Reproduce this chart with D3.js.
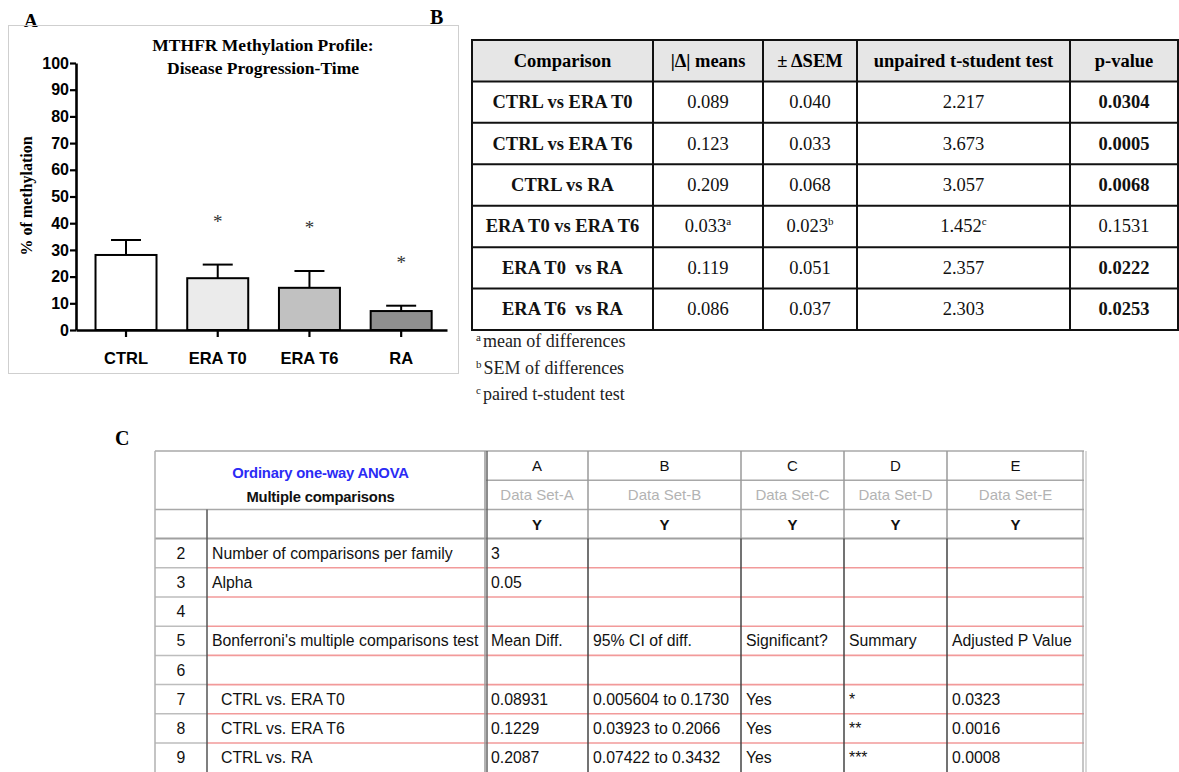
<!DOCTYPE html>
<html>
<head>
<meta charset="utf-8">
<script src="https://cdn.jsdelivr.net/npm/d3@7"></script>
<style>
  html, body { margin: 0; padding: 0; background: #fff; }
  svg { display: block; }
  text { white-space: pre; }
</style>
</head>
<body>
<svg id="fig" width="1179" height="772"></svg>
<script>
// ---------- Panel A: MTHFR methylation by group ----------
const groups = ["CTRL", "ERA T0", "ERA T6", "RA"];
const meanMethylation = [28.1, 19.4, 15.8, 7.1];
const semMethylation = [5.6, 5.1, 6.3, 2.0];
const significantVsCtrl = [false, true, true, true];
const yTickValues = [0, 10, 20, 30, 40, 50, 60, 70, 80, 90, 100];
const barFills = ["#ffffff", "#ebebeb", "#c1c1c1", "#8f8f8f"];

// ---------- Panel B: pairwise t-tests ----------
const tHeaders = ["Comparison", "|\u0394| means", "\u00b1 \u0394SEM", "unpaired t-student test", "p-value"];
const tComparisons = ["CTRL vs ERA T0", "CTRL vs ERA T6", "CTRL vs RA", "ERA T0 vs ERA T6", "ERA T0  vs RA", "ERA T6  vs RA"];
const tMeanDiff = ["0.089", "0.123", "0.209", "0.033", "0.119", "0.086"];
const tDeltaSem = ["0.040", "0.033", "0.068", "0.023", "0.051", "0.037"];
const tStatistic = ["2.217", "3.673", "3.057", "1.452", "2.357", "2.303"];
const tPValue = ["0.0304", "0.0005", "0.0068", "0.1531", "0.0222", "0.0253"];
const pairedTest = [false, false, false, true, false, false];
const footnoteMarks = ["a", "b", "c"];
const footnoteTexts = ["mean of differences", "SEM of differences", "paired t-student test"];

// ---------- Panel C: one-way ANOVA, Bonferroni ----------
const anovaLetters = ["A", "B", "C", "D", "E"];
const anovaDataSets = ["Data Set-A", "Data Set-B", "Data Set-C", "Data Set-D", "Data Set-E"];
const anovaRowNumbers = ["2", "3", "4", "5", "6", "7", "8", "9"];
const anovaRowLabels = ["Number of comparisons per family", "Alpha", "", "Bonferroni's multiple comparisons test", "",
                        "CTRL vs. ERA T0", "CTRL vs. ERA T6", "CTRL vs. RA"];
const anovaCells = [
  ["3", "", "", "", ""],
  ["0.05", "", "", "", ""],
  ["", "", "", "", ""],
  ["Mean Diff.", "95% CI of diff.", "Significant?", "Summary", "Adjusted P Value"],
  ["", "", "", "", ""],
  ["0.08931", "0.005604 to 0.1730", "Yes", "*", "0.0323"],
  ["0.1229", "0.03923 to 0.2066", "Yes", "**", "0.0016"],
  ["0.2087", "0.07422 to 0.3432", "Yes", "***", "0.0008"]
];

const SERIF = "'Liberation Serif', 'Times New Roman', Times, serif";
const SANS = "'Liberation Sans', Arial, Helvetica, sans-serif";

const svg = d3.select("#fig");
svg.append("rect").attr("width", 1179).attr("height", 772).attr("fill", "#fff");

// ================= Panel A =================
svg.append("text").attr("x", 24).attr("y", 27).text("A")
  .attr("font-family", SERIF).attr("font-weight", "bold").attr("font-size", 19);
svg.append("rect").attr("x", 8.5).attr("y", 25.5).attr("width", 450).attr("height", 348)
  .attr("fill", "none").attr("stroke", "#cfcfcf").attr("stroke-width", 1);

const y = d3.scaleLinear().domain([0, 100]).range([330, 63]);
const x = d3.scaleBand().domain(groups).range([76, 447])
  .paddingInner(0.335).paddingOuter(0.19).align(0.56);

const gA = svg.append("g");

// title
gA.append("text").attr("x", 263).attr("y", 51).attr("text-anchor", "middle")
  .attr("font-family", SERIF).attr("font-weight", "bold").attr("font-size", 17.5)
  .text("MTHFR Methylation Profile:");
gA.append("text").attr("x", 263).attr("y", 74).attr("text-anchor", "middle")
  .attr("font-family", SERIF).attr("font-weight", "bold").attr("font-size", 17.5)
  .text("Disease Progression-Time");

// y-axis title
gA.append("text").attr("transform", "translate(32,196) rotate(-90)")
  .attr("text-anchor", "middle")
  .attr("font-family", SERIF).attr("font-weight", "bold").attr("font-size", 16)
  .text("% of methylation");

const data = groups.map((g, i) => ({ g, m: meanMethylation[i], s: semMethylation[i], sig: significantVsCtrl[i], fill: barFills[i] }));

// error bars (drawn first so the bar outline sits on top)
const capHalf = 15;
const eb = gA.append("g").attr("stroke", "#000").attr("stroke-width", 2).attr("fill", "none");
eb.selectAll("line.v").data(data).join("line").attr("class", "v")
  .attr("x1", d => x(d.g) + x.bandwidth() / 2).attr("x2", d => x(d.g) + x.bandwidth() / 2)
  .attr("y1", d => y(d.m)).attr("y2", d => y(d.m + d.s));
eb.selectAll("line.c").data(data).join("line").attr("class", "c")
  .attr("x1", d => x(d.g) + x.bandwidth() / 2 - capHalf).attr("x2", d => x(d.g) + x.bandwidth() / 2 + capHalf)
  .attr("y1", d => y(d.m + d.s)).attr("y2", d => y(d.m + d.s));

// bars
gA.append("g").selectAll("rect").data(data).join("rect")
  .attr("x", d => x(d.g)).attr("width", x.bandwidth())
  .attr("y", d => y(d.m)).attr("height", d => y(0) - y(d.m))
  .attr("fill", d => d.fill).attr("stroke", "#000").attr("stroke-width", 2);

// significance stars above error bars
const starGap = 37;
gA.append("g").selectAll("text").data(data.filter(d => d.sig)).join("text")
  .attr("x", d => x(d.g) + x.bandwidth() / 2)
  .attr("y", d => y(d.m + d.s) - starGap)
  .attr("text-anchor", "middle")
  .attr("font-family", SERIF).attr("font-size", 19).attr("fill", "#333")
  .text("*");

// axes
const yAxis = gA.append("g").attr("transform", "translate(76,0)")
  .call(d3.axisLeft(y).tickValues(yTickValues).tickSize(6).tickPadding(1).tickSizeOuter(0));
const xAxis = gA.append("g").attr("transform", "translate(0,330)")
  .call(d3.axisBottom(x).tickSize(7).tickPadding(15).tickSizeOuter(0));
[yAxis, xAxis].forEach(a => {
  a.select(".domain").attr("stroke", "#000").attr("stroke-width", 2.6);
  a.selectAll(".tick line").attr("stroke", "#000").attr("stroke-width", 2.2);
  a.selectAll(".tick text").attr("fill", "#000")
    .attr("font-family", SANS).attr("font-weight", "bold");
});
yAxis.selectAll(".tick text").attr("font-size", 16);
xAxis.selectAll(".tick text").attr("font-size", 16.5);

// ================= Panel B =================
svg.append("text").attr("x", 430).attr("y", 24).text("B")
  .attr("font-family", SERIF).attr("font-weight", "bold").attr("font-size", 20);

const colEdgesB = [472, 653, 763, 857, 1070, 1178];
const rowsB = d3.scaleBand().domain(d3.range(tComparisons.length + 1)).range([40, 330]);
const gB = svg.append("g");

gB.append("rect").attr("x", colEdgesB[0]).attr("y", rowsB(0))
  .attr("width", colEdgesB[colEdgesB.length - 1] - colEdgesB[0]).attr("height", rowsB.step())
  .attr("fill", "#e6e6e6");

const colCenterB = i => (colEdgesB[i] + colEdgesB[i + 1]) / 2;

// header
gB.selectAll("text.h").data(tHeaders).join("text").attr("class", "h")
  .attr("x", (d, i) => colCenterB(i)).attr("y", rowsB(0) + rowsB.step() / 2 + 6)
  .attr("text-anchor", "middle")
  .attr("font-family", SERIF).attr("font-weight", "bold").attr("font-size", 18.5)
  .text(d => d);

// body
const bodyB = tComparisons.map((c, i) => ({
  cells: [c, tMeanDiff[i], tDeltaSem[i], tStatistic[i], tPValue[i]],
  paired: pairedTest[i], row: i + 1, p: +tPValue[i]
}));
bodyB.forEach(r => {
  const marks = r.paired ? ["", "a", "b", "c", ""] : ["", "", "", "", ""];
  r.cells.forEach((v, ci) => {
    const t = gB.append("text")
      .attr("x", colCenterB(ci)).attr("y", rowsB(r.row) + rowsB.step() / 2 + 6)
      .attr("text-anchor", "middle")
      .attr("font-family", SERIF).attr("font-size", 18.5)
      .attr("font-weight", ci === 0 || (ci === 4 && r.p < 0.05) ? "bold" : "normal")
      .attr("fill", "#111");
    t.append("tspan").text(v);
    if (marks[ci]) t.append("tspan").attr("font-size", 11).attr("dy", -7).text(marks[ci]);
  });
});

// grid
const gridB = gB.append("g").attr("stroke", "#111").attr("stroke-width", 2);
gridB.selectAll("line.v").data(colEdgesB).join("line").attr("class", "v")
  .attr("x1", d => d).attr("x2", d => d).attr("y1", 40).attr("y2", 330);
gridB.selectAll("line.h").data(d3.range(tComparisons.length + 2)).join("line").attr("class", "h")
  .attr("x1", colEdgesB[0] - 1).attr("x2", colEdgesB[colEdgesB.length - 1] + 1)
  .attr("y1", i => 40 + i * rowsB.step()).attr("y2", i => 40 + i * rowsB.step());

// footnotes
footnoteTexts.forEach((f, i) => {
  const t = gB.append("text").attr("x", 476).attr("y", 347 + i * 26.5)
    .attr("font-family", SERIF).attr("font-size", 18).attr("fill", "#222");
  t.append("tspan").attr("font-size", 11).attr("dy", -6).text(footnoteMarks[i]);
  t.append("tspan").attr("dy", 6).attr("dx", 2).text(f);
});

// ================= Panel C =================
svg.append("text").attr("x", 115).attr("y", 445).text("C")
  .attr("font-family", SERIF).attr("font-weight", "bold").attr("font-size", 20);

const colEdgesC = [155, 207, 486, 588, 741, 844, 947, 1084];
const rowsC = d3.scaleBand().domain(d3.range(3 + anovaRowNumbers.length)).range([451, 772.2]);
const gC = svg.append("g");
const stepC = rowsC.step();
const midC = r => rowsC(r) + stepC / 2 + 5.5;
const colCenterC = i => (colEdgesC[i] + colEdgesC[i + 1]) / 2;
const bodySize = 15.8;

// header block
gC.append("text").attr("x", (colEdgesC[0] + colEdgesC[2]) / 2).attr("y", 478)
  .attr("text-anchor", "middle").attr("font-family", SANS).attr("font-weight", "bold")
  .attr("font-size", 14.8).attr("fill", "#2b2bf5").attr("letter-spacing", -0.2)
  .text("Ordinary one-way ANOVA");
gC.append("text").attr("x", (colEdgesC[0] + colEdgesC[2]) / 2).attr("y", 502)
  .attr("text-anchor", "middle").attr("font-family", SANS).attr("font-weight", "bold")
  .attr("font-size", 14.8).attr("fill", "#111").attr("letter-spacing", -0.2)
  .text("Multiple comparisons");

gC.selectAll("text.let").data(anovaLetters).join("text").attr("class", "let")
  .attr("x", (d, i) => colCenterC(i + 2)).attr("y", midC(0))
  .attr("text-anchor", "middle").attr("font-family", SANS).attr("font-size", 15).attr("fill", "#111")
  .text(d => d);
gC.selectAll("text.ds").data(anovaDataSets).join("text").attr("class", "ds")
  .attr("x", (d, i) => colCenterC(i + 2)).attr("y", midC(1))
  .attr("text-anchor", "middle").attr("font-family", SANS).attr("font-size", 15).attr("fill", "#b3b3b3")
  .text(d => d);
gC.selectAll("text.yy").data(anovaLetters).join("text").attr("class", "yy")
  .attr("x", (d, i) => colCenterC(i + 2)).attr("y", midC(2))
  .attr("text-anchor", "middle").attr("font-family", SANS).attr("font-weight", "bold")
  .attr("font-size", 15).attr("fill", "#111")
  .text("Y");

// body rows
anovaRowNumbers.forEach((n, i) => {
  const r = i + 3;
  gC.append("text").attr("x", colCenterC(0)).attr("y", midC(r)).attr("text-anchor", "middle")
    .attr("font-family", SANS).attr("font-size", bodySize).attr("fill", "#111").text(n);
  const lbl = anovaRowLabels[i];
  const indent = lbl.includes("vs.") ? 14 : 5;
  gC.append("text").attr("x", colEdgesC[1] + indent).attr("y", midC(r))
    .attr("font-family", SANS).attr("font-size", bodySize).attr("fill", "#111").text(lbl);
  anovaCells[i].forEach((v, ci) => {
    gC.append("text").attr("x", colEdgesC[ci + 2] + 5).attr("y", midC(r))
      .attr("font-family", SANS).attr("font-size", bodySize).attr("fill", "#111").text(v);
  });
});

// grid lines
const line = (x1, y1, x2, y2, c, w) => gC.append("line")
  .attr("x1", x1).attr("y1", y1).attr("x2", x2).attr("y2", y2)
  .attr("stroke", c).attr("stroke-width", w);
const right = colEdgesC[colEdgesC.length - 1];
line(colEdgesC[0], rowsC(0), right, rowsC(0), "#a8a8a8", 1.5);
line(colEdgesC[2], rowsC(1), right, rowsC(1), "#a8a8a8", 1.5);
line(colEdgesC[0], rowsC(2), right, rowsC(2), "#a8a8a8", 1.5);
line(colEdgesC[0], rowsC(3), right, rowsC(3), "#a0a0a0", 2);
for (let r = 4; r < 3 + anovaRowNumbers.length; r++) {
  line(colEdgesC[0], rowsC(r), colEdgesC[1], rowsC(r), "#bdbdbd", 1.5);
  line(colEdgesC[1], rowsC(r), right, rowsC(r), "#f29a9a", 1.6);
}
line(colEdgesC[0], rowsC(0), colEdgesC[0], 772, "#b0b0b0", 1.5);
line(colEdgesC[1], rowsC(2), colEdgesC[1], 772, "#555", 1.5);
line(colEdgesC[2] - 1, rowsC(0), colEdgesC[2] - 1, 772, "#9a9a9a", 1.5);
line(colEdgesC[2] + 1, rowsC(0), colEdgesC[2] + 1, 772, "#666", 1.5);
colEdgesC.slice(3, -1).forEach(cx => {
  line(cx, rowsC(0), cx, rowsC(3), "#9a9a9a", 1.5);
  line(cx, rowsC(3), cx, 772, "#444", 1.5);
});
line(right - 1, rowsC(0), right - 1, 772, "#a0a0a0", 1.2);
line(right + 2, rowsC(0), right + 2, 772, "#c0c0c0", 1.2);
</script>
</body>
</html>
